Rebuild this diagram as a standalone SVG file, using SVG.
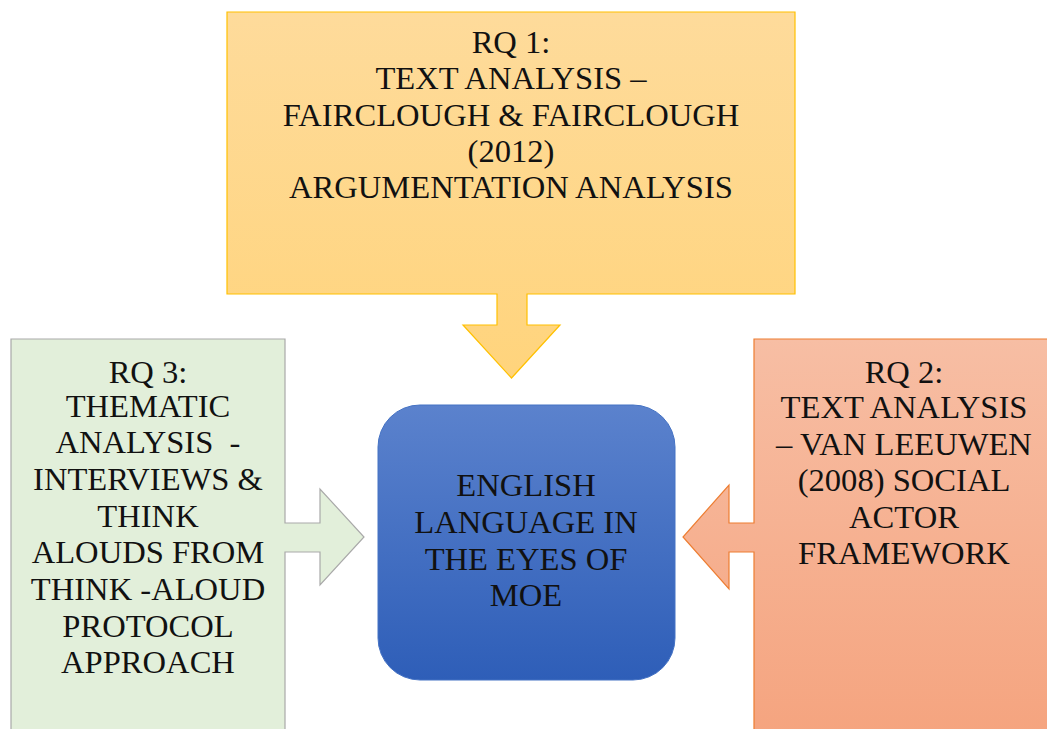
<svg xmlns="http://www.w3.org/2000/svg" width="1047" height="729" viewBox="0 0 1047 729">
  <defs>
    <linearGradient id="gOrange" x1="0" y1="0" x2="0" y2="1">
      <stop offset="0" stop-color="#fedb9b"/>
      <stop offset="1" stop-color="#ffd47c"/>
    </linearGradient>
    <linearGradient id="gBlue" x1="0" y1="0" x2="0" y2="1">
      <stop offset="0" stop-color="#5b82cd"/>
      <stop offset="1" stop-color="#2e5eb8"/>
    </linearGradient>
    <linearGradient id="gSalmon" x1="0" y1="0" x2="0" y2="1">
      <stop offset="0" stop-color="#f7bea4"/>
      <stop offset="1" stop-color="#f5a47f"/>
    </linearGradient>
  </defs>
  <style>
    text { font-family: 'Liberation Serif', 'Times New Roman', serif; font-size: 32.6px; fill: #111; text-anchor: middle; white-space: pre; }
    .rq1 { fill: url(#gOrange); stroke: #ffc000; stroke-width: 1.2; }
    .rq2 { fill: url(#gSalmon); stroke: #ed7d31; stroke-width: 1.2; }
    .rq3 { fill: #e2efda; stroke: #a9a9a9; stroke-width: 1.2; }
    .core { fill: url(#gBlue); stroke: #4472c4; stroke-width: 1; }
  </style>

  <!-- RQ1 box with downward arrow -->
  <g id="rq1">
    <path class="rq1" d="M227,12 H795 V294 H527 V325 H560 L511.5,378 L463,325 H497 V294 H227 Z"/>
    <text x="511" y="53">RQ 1:</text>
    <text x="511" y="89">TEXT ANALYSIS –</text>
    <text x="511" y="126">FAIRCLOUGH &amp; FAIRCLOUGH</text>
    <text x="511" y="162">(2012)</text>
    <text x="511" y="198">ARGUMENTATION ANALYSIS</text>
  </g>

  <!-- RQ3 box with rightward arrow -->
  <g id="rq3">
    <path class="rq3" d="M11,339 H285 V523 H320 V489 L364,537 L320,585 V552 H285 V735 H11 Z"/>
    <text x="148" y="383">RQ 3:</text>
    <text x="148" y="417">THEMATIC</text>
    <text x="148" y="453">ANALYSIS  -</text>
    <text x="148" y="490">INTERVIEWS &amp;</text>
    <text x="148" y="527">THINK</text>
    <text x="148" y="563">ALOUDS FROM</text>
    <text x="148" y="600">THINK -ALOUD</text>
    <text x="148" y="637">PROTOCOL</text>
    <text x="148" y="673">APPROACH</text>
  </g>

  <!-- RQ2 box with leftward arrow -->
  <g id="rq2">
    <path class="rq2" d="M754,339 H1052 V735 H754 V552 H729 V589 L683,537 L729,485 V523 H754 Z"/>
    <text x="904" y="383">RQ 2:</text>
    <text x="904" y="418">TEXT ANALYSIS</text>
    <text x="904" y="455">– VAN LEEUWEN</text>
    <text x="904" y="491">(2008) SOCIAL</text>
    <text x="904" y="528">ACTOR</text>
    <text x="904" y="564">FRAMEWORK</text>
  </g>

  <!-- central topic -->
  <g id="core">
    <rect class="core" x="378" y="405" width="297" height="275" rx="42" ry="42"/>
    <text x="526" y="496">ENGLISH</text>
    <text x="526" y="533">LANGUAGE IN</text>
    <text x="526" y="570">THE EYES OF</text>
    <text x="526" y="606">MOE</text>
  </g>

  <!-- arrows are part of the box outlines above -->
  <g id="connectors"/>
</svg>
